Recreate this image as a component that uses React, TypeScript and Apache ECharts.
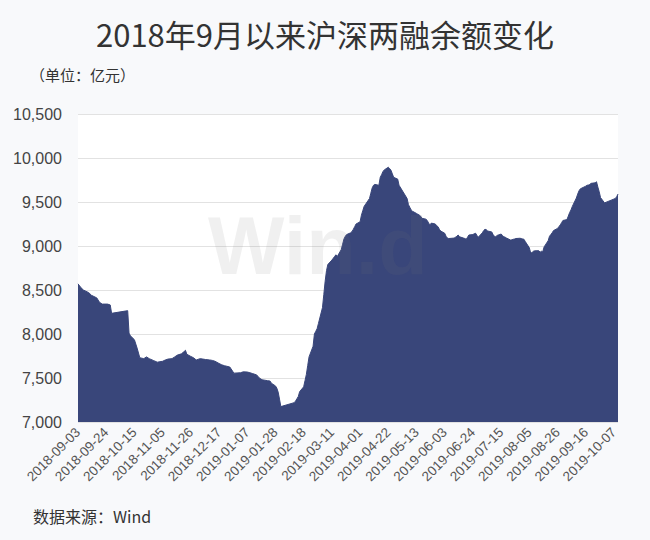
import React, { useEffect, useRef } from "react";
import * as echarts from "echarts";

const chartTitle = "2018年9月以来沪深两融余额变化";
const unitLabel = "（单位：亿元）";
const sourceLabel = "数据来源：Wind";
const watermarkText = "Win.d";

const startDate = "2018-09-03";
const endDate = "2019-10-10";
const yMin = 7000;
const yMax = 10500;
const yStep = 500;

const obsDates = [
  "2018-09-03", "2018-09-05", "2018-09-07", "2018-09-11", "2018-09-13", "2018-09-17", "2018-09-19", "2018-09-21",
  "2018-09-25", "2018-09-27", "2018-09-28", "2018-10-08", "2018-10-10", "2018-10-11", "2018-10-12", "2018-10-15",
  "2018-10-17", "2018-10-19", "2018-10-22", "2018-10-24", "2018-10-26", "2018-10-29", "2018-11-01", "2018-11-05",
  "2018-11-07", "2018-11-09", "2018-11-12", "2018-11-14", "2018-11-16", "2018-11-19", "2018-11-21", "2018-11-22",
  "2018-11-23", "2018-11-26", "2018-11-28", "2018-11-30", "2018-12-03", "2018-12-05", "2018-12-07", "2018-12-10",
  "2018-12-12", "2018-12-14", "2018-12-17", "2018-12-19", "2018-12-21", "2018-12-25", "2018-12-27", "2018-12-28",
  "2019-01-02", "2019-01-04", "2019-01-07", "2019-01-09", "2019-01-11", "2019-01-14", "2019-01-16", "2019-01-18",
  "2019-01-22", "2019-01-24", "2019-01-25", "2019-01-28", "2019-01-29", "2019-01-30", "2019-01-31", "2019-02-01",
  "2019-02-11", "2019-02-12", "2019-02-13", "2019-02-14", "2019-02-15", "2019-02-18", "2019-02-19", "2019-02-20",
  "2019-02-21", "2019-02-22", "2019-02-25", "2019-02-26", "2019-02-27", "2019-02-28", "2019-03-01", "2019-03-04",
  "2019-03-05", "2019-03-06", "2019-03-07", "2019-03-08", "2019-03-11", "2019-03-12", "2019-03-13", "2019-03-14",
  "2019-03-15", "2019-03-18", "2019-03-19", "2019-03-20", "2019-03-21", "2019-03-22", "2019-03-25", "2019-03-26",
  "2019-03-27", "2019-03-28", "2019-03-29", "2019-04-01", "2019-04-02", "2019-04-03", "2019-04-04", "2019-04-08",
  "2019-04-09", "2019-04-10", "2019-04-11", "2019-04-12", "2019-04-15", "2019-04-16", "2019-04-17", "2019-04-18",
  "2019-04-19", "2019-04-22", "2019-04-23", "2019-04-24", "2019-04-25", "2019-04-26", "2019-04-29", "2019-04-30",
  "2019-05-06", "2019-05-07", "2019-05-08", "2019-05-09", "2019-05-10", "2019-05-13", "2019-05-14", "2019-05-15",
  "2019-05-16", "2019-05-17", "2019-05-20", "2019-05-21", "2019-05-22", "2019-05-23", "2019-05-24", "2019-05-27",
  "2019-05-28", "2019-05-29", "2019-05-30", "2019-05-31", "2019-06-03", "2019-06-04", "2019-06-05", "2019-06-06",
  "2019-06-10", "2019-06-11", "2019-06-12", "2019-06-13", "2019-06-14", "2019-06-17", "2019-06-18", "2019-06-19",
  "2019-06-20", "2019-06-21", "2019-06-24", "2019-06-25", "2019-06-26", "2019-06-27", "2019-06-28", "2019-07-01",
  "2019-07-02", "2019-07-03", "2019-07-04", "2019-07-05", "2019-07-08", "2019-07-09", "2019-07-10", "2019-07-11",
  "2019-07-12", "2019-07-15", "2019-07-16", "2019-07-17", "2019-07-18", "2019-07-19", "2019-07-22", "2019-07-23",
  "2019-07-24", "2019-07-25", "2019-07-26", "2019-07-29", "2019-07-30", "2019-07-31", "2019-08-01", "2019-08-02",
  "2019-08-05", "2019-08-06", "2019-08-07", "2019-08-08", "2019-08-09", "2019-08-12", "2019-08-13", "2019-08-14",
  "2019-08-15", "2019-08-16", "2019-08-19", "2019-08-20", "2019-08-21", "2019-08-22", "2019-08-23", "2019-08-26",
  "2019-08-27", "2019-08-28", "2019-08-29", "2019-08-30", "2019-09-02", "2019-09-03", "2019-09-04", "2019-09-05",
  "2019-09-06", "2019-09-09", "2019-09-10", "2019-09-11", "2019-09-12", "2019-09-16", "2019-09-17", "2019-09-18",
  "2019-09-19", "2019-09-20", "2019-09-23", "2019-09-24", "2019-09-25", "2019-09-26", "2019-09-27", "2019-09-30",
  "2019-10-08", "2019-10-09", "2019-10-10",
];

const obsValues = [
  8570, 8530, 8500, 8470, 8440, 8410, 8360, 8340,
  8340, 8330, 8235, 8260, 8265, 8010, 7980, 7935,
  7840, 7730, 7720, 7740, 7720, 7700, 7680, 7690,
  7705, 7715, 7720, 7740, 7760, 7775, 7800, 7815,
  7770, 7745, 7730, 7705, 7720, 7715, 7710, 7705,
  7700, 7690, 7665, 7650, 7640, 7625, 7580, 7555,
  7560, 7570, 7568, 7560, 7550, 7535, 7500, 7480,
  7470, 7465, 7440, 7410, 7385, 7340, 7260, 7175,
  7220, 7240, 7265, 7290, 7345, 7400, 7470, 7540,
  7640, 7740, 7860, 8000, 8030, 8060, 8120, 8300,
  8450, 8600, 8720, 8790, 8840, 8860, 8880, 8900,
  8880, 8960, 9020, 9080, 9110, 9130, 9150, 9165,
  9190, 9220, 9250, 9275, 9350, 9400, 9450, 9540,
  9600, 9660, 9690, 9700, 9690, 9780, 9810, 9845,
  9865, 9895, 9880, 9860, 9820, 9780, 9760, 9690,
  9540, 9470, 9440, 9410, 9395, 9370, 9360, 9352,
  9340, 9315, 9305, 9290, 9260, 9240, 9260, 9250,
  9230, 9220, 9190, 9170, 9145, 9110, 9090, 9085,
  9090, 9100, 9110, 9125, 9105, 9090, 9085, 9076,
  9100, 9125, 9130, 9140, 9145, 9120, 9100, 9150,
  9175, 9190, 9185, 9170, 9160, 9130, 9110, 9105,
  9120, 9136, 9120, 9105, 9100, 9090, 9068, 9070,
  9076, 9080, 9085, 9088, 9085, 9080, 9076, 9050,
  8980, 8920, 8925, 8940, 8945, 8947, 8930, 8940,
  8935, 8990, 9060, 9110, 9130, 9150, 9175, 9200,
  9220, 9240, 9265, 9290, 9300, 9340, 9380, 9410,
  9450, 9545, 9590, 9628, 9650, 9680, 9690, 9693,
  9700, 9712, 9718, 9730, 9670, 9617, 9550, 9490,
  9540, 9560, 9590,
];

function buildCalendar(start: string, end: string): string[] {
  const out: string[] = [];
  const d = new Date(start + "T00:00:00Z");
  const e = new Date(end + "T00:00:00Z");
  while (d.getTime() <= e.getTime()) {
    out.push(d.toISOString().slice(0, 10));
    d.setUTCDate(d.getUTCDate() + 1);
  }
  return out;
}

export default function App() {
  const ref = useRef<HTMLDivElement>(null);

  useEffect(() => {
    if (!ref.current) return;
    const chart = echarts.init(ref.current, undefined, { renderer: "svg" });

    const categories = buildCalendar(startDate, endDate);
    const lookup: Record<string, number> = {};
    obsDates.forEach((d, i) => {
      lookup[d] = obsValues[i];
    });
    const seriesData = categories.map((c) => (c in lookup ? lookup[c] : null));

    const navy = "#39467a";

    chart.setOption({
      animation: false,
      backgroundColor: "#f8f9fb",
      title: {
        text: chartTitle,
        left: "center",
        top: 13,
        textStyle: {
          fontSize: 31,
          fontWeight: "normal",
          color: "#333",
          fontFamily: "Noto Sans CJK SC",
        },
      },
      grid: {
        left: 78,
        right: 32,
        top: 114,
        bottom: 118,
        show: true,
        backgroundColor: "#ffffff",
        borderWidth: 0,
      },
      xAxis: {
        type: "category",
        data: categories,
        boundaryGap: false,
        axisLine: { show: false },
        axisTick: { show: false },
        splitLine: { show: false },
        axisLabel: {
          interval: 20,
          rotate: 45,
          fontSize: 13.5,
          color: "#555",
          margin: 8,
          fontFamily: "Liberation Sans",
        },
      },
      yAxis: {
        type: "value",
        min: yMin,
        max: yMax,
        interval: yStep,
        axisLine: { show: false },
        axisTick: { show: false },
        splitLine: { lineStyle: { color: "#e2e2e2", width: 1 } },
        axisLabel: {
          fontSize: 16,
          color: "#444",
          margin: 16,
          fontFamily: "Liberation Sans",
          formatter: (v: number) => v.toLocaleString("en-US"),
        },
      },
      series: [
        {
          type: "line",
          data: seriesData,
          connectNulls: true,
          symbol: "none",
          lineStyle: { color: navy, width: 1 },
          areaStyle: { color: navy, opacity: 1 },
          z: 2,
        },
      ],
      graphic: [
        {
          type: "text",
          left: 30,
          top: 67,
          style: {
            text: unitLabel,
            fontSize: 15,
            fill: "#333",
            fontFamily: "Noto Sans CJK SC",
          },
        },
        {
          type: "text",
          left: 33,
          top: 508,
          style: {
            text: sourceLabel,
            fontSize: 16,
            fill: "#333",
            fontFamily: "Noto Sans CJK SC",
          },
        },
        {
          type: "text",
          left: 208,
          top: 205,
          z: 100,
          silent: true,
          style: {
            text: watermarkText,
            fontSize: 81,
            fontWeight: "bold",
            fontFamily: "Liberation Sans",
            fill: "rgba(120,120,120,0.11)",
          },
        },
      ],
    });

    return () => {
      chart.dispose();
    };
  }, []);

  return (
    <div
      ref={ref}
      style={{
        position: "fixed",
        left: 0,
        top: 0,
        width: 650,
        height: 540,
        background: "#f8f9fb",
      }}
    />
  );
}
